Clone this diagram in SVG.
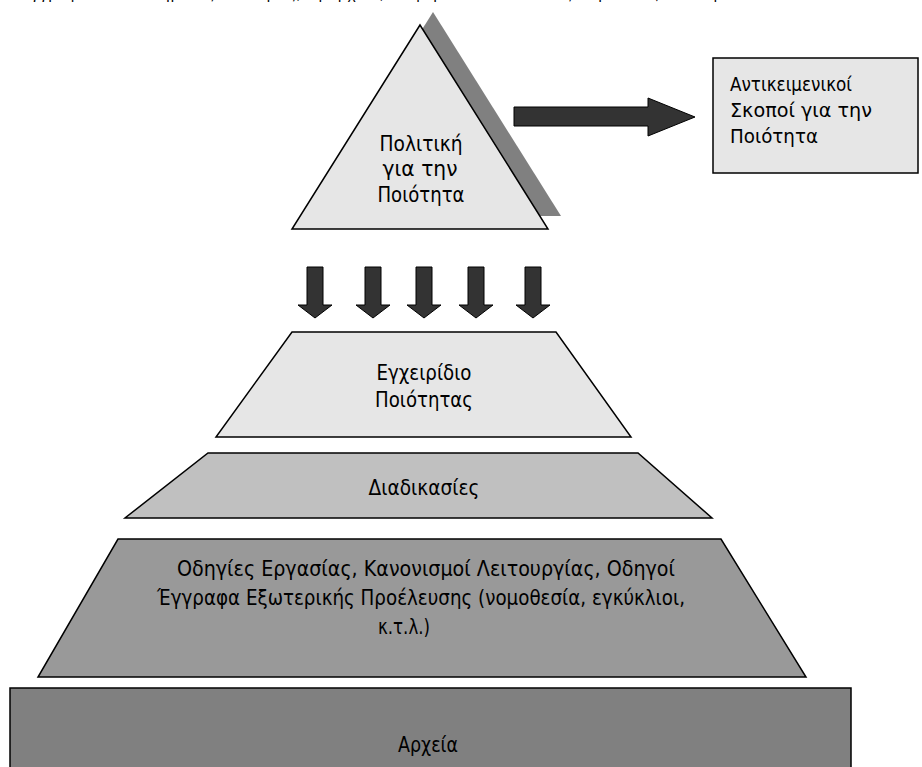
<svg xmlns="http://www.w3.org/2000/svg" width="922" height="767" viewBox="0 0 922 767">
  <style>
    .shape { stroke: #000; stroke-width: 1.5; stroke-linejoin: miter; }
    .light { fill: #e6e6e6; }
    .mid { fill: #c0c0c0; }
    .dark { fill: #999999; }
    .darker { fill: #808080; }
    .arrow { fill: #333333; stroke: #000; stroke-width: 1; }
    .label { font-family: "DejaVu Sans", "Liberation Sans", sans-serif; font-size: 22px; fill: #000; }
    .small { font-size: 20px; }
    .mid-anchor { text-anchor: middle; }
  </style>

  <rect x="0" y="0" width="922" height="767" fill="#ffffff"/>

  <!-- running text line above the figure, clipped at the top edge -->
  <text x="0" y="-1" textLength="775" lengthAdjust="spacing" style="font-family: 'Liberation Sans', sans-serif; font-size: 15px; fill: #000;">Τα έγγραφα του Συστήματος Ποιότητας, ιεραρχικά, διαφοροποιούνται όπως παρουσιάζεται παρακάτω:</text>

  <!-- quality policy triangle with its offset shadow -->
  <g id="policy">
    <polygon points="433,12 305,216 561,216" fill="#808080"/>
    <polygon class="shape light" points="420,25 292,229 548,229"/>
    <text class="label mid-anchor" x="421" y="151" textLength="83" lengthAdjust="spacingAndGlyphs">Πολιτική</text>
    <text class="label mid-anchor" x="420" y="176" textLength="75" lengthAdjust="spacingAndGlyphs">για την</text>
    <text class="label mid-anchor" x="421" y="202" textLength="87" lengthAdjust="spacingAndGlyphs">Ποιότητα</text>
  </g>

  <!-- quality objectives box -->
  <g id="objectives">
    <rect class="shape light" x="713" y="58" width="205" height="115"/>
    <text class="label small" x="730" y="91" textLength="122" lengthAdjust="spacingAndGlyphs">Αντικειμενικοί</text>
    <text class="label small" x="730" y="117" textLength="142" lengthAdjust="spacingAndGlyphs">Σκοποί για την</text>
    <text class="label small" x="730" y="143" textLength="88" lengthAdjust="spacingAndGlyphs">Ποιότητα</text>
  </g>

  <!-- quality manual -->
  <g id="manual">
    <polygon class="shape light" points="292,332 556,332 631,437 216,437"/>
    <text class="label mid-anchor" x="424" y="380" textLength="95" lengthAdjust="spacingAndGlyphs">Εγχειρίδιο</text>
    <text class="label mid-anchor" x="424" y="407" textLength="98" lengthAdjust="spacingAndGlyphs">Ποιότητας</text>
  </g>

  <!-- procedures -->
  <g id="procedures">
    <polygon class="shape mid" points="208,453 638,453 712,518 125,518"/>
    <text class="label mid-anchor" x="424" y="495" textLength="111" lengthAdjust="spacingAndGlyphs">Διαδικασίες</text>
  </g>

  <!-- work instructions and external documents -->
  <g id="instructions">
    <polygon class="shape dark" points="118,539 721,539 806,677 38,677"/>
    <text class="label mid-anchor" x="426" y="576" textLength="498" lengthAdjust="spacingAndGlyphs">Οδηγίες Εργασίας, Κανονισμοί Λειτουργίας, Οδηγοί</text>
    <text class="label mid-anchor" x="421" y="605" textLength="528" lengthAdjust="spacingAndGlyphs">Έγγραφα Εξωτερικής Προέλευσης (νομοθεσία, εγκύκλιοι,</text>
    <text class="label mid-anchor" x="404" y="634" textLength="52" lengthAdjust="spacingAndGlyphs">κ.τ.λ.)</text>
  </g>

  <!-- records -->
  <g id="records">
    <rect class="shape darker" x="10" y="688" width="841" height="100"/>
    <text class="label mid-anchor" x="428" y="752" textLength="60" lengthAdjust="spacingAndGlyphs">Αρχεία</text>
  </g>

  <!-- block arrows -->
  <g id="connectors">
    <polygon class="arrow" points="514,107 648,107 648,98 695,117 648,136 648,126 514,126"/>
    <polygon class="arrow" points="307,267 323,267 323,305 332,305 315,318 298,305 307,305"/>
    <polygon class="arrow" points="365,267 381,267 381,305 390,305 373,318 356,305 365,305"/>
    <polygon class="arrow" points="416,267 432,267 432,305 441,305 424,318 407,305 416,305"/>
    <polygon class="arrow" points="468,267 484,267 484,305 493,305 476,318 459,305 468,305"/>
    <polygon class="arrow" points="525,267 541,267 541,305 550,305 533,318 516,305 525,305"/>
  </g>
</svg>
